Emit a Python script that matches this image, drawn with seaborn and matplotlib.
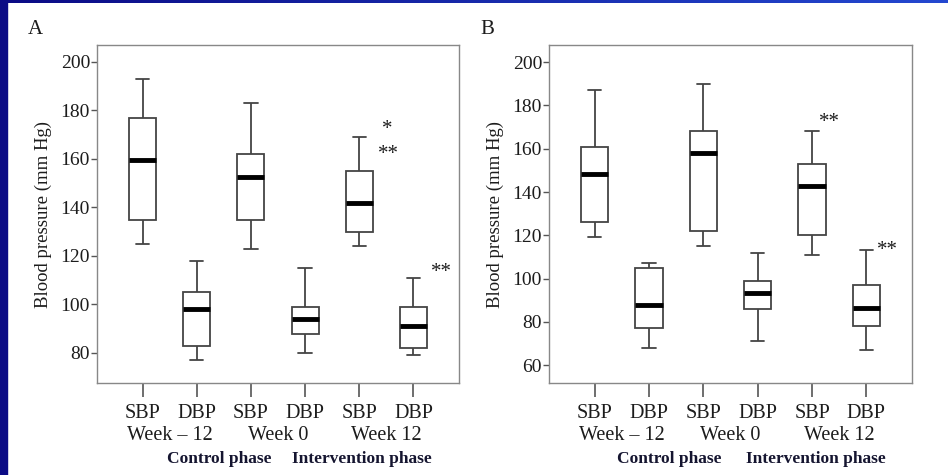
import numpy as np
import pandas as pd
import matplotlib
matplotlib.use("Agg")
import matplotlib.pyplot as plt
import matplotlib.transforms as mtransforms
from matplotlib.patches import Rectangle
import seaborn as sns

# five-number summaries (min, Q1, median, Q3, max)
groups = ["SBP W-12", "DBP W-12", "SBP W0", "DBP W0", "SBP W12", "DBP W12"]
tick_labels = ["SBP", "DBP", "SBP", "DBP", "SBP", "DBP"]
week_labels = ["Week \u2013 12", "Week 0", "Week 12"]
phase_labels = ["Control phase", "Intervention phase"]

panel_a = [
    [125, 135, 159.5, 177, 193],
    [77, 83, 98, 105, 118],
    [123, 135, 152.5, 162, 183],
    [80, 88, 94, 99, 115],
    [124, 130, 142, 155, 169],
    [79, 82, 91, 99, 111],
]
panel_b = [
    [119, 126, 148.5, 161, 187],
    [68, 77, 88, 105, 107],
    [115, 122, 158, 168, 190],
    [71, 86, 93.5, 99, 112],
    [111, 120, 143, 153, 168],
    [67, 78, 86.5, 97, 113],
]

# significance marks: (x position, y value, text)
stars_a = [(4.52, 172, "*"), (4.54, 162, "**"), (5.52, 113, "**")]
stars_b = [(4.32, 172, "**"), (5.38, 113, "**")]

sns.set_style("white")
plt.rcParams["font.family"] = ["Liberation Serif", "DejaVu Serif"]
text_col = "#1c1c1c"

fig = plt.figure(figsize=(9.48, 4.75), dpi=100)

# slide border: navy strip on the left, gradient strip at the top
fig.add_artist(Rectangle((0, 0), 7 / 948, 1, transform=fig.transFigure,
                         color="#0b0b85", zorder=5))
bar_ax = fig.add_axes([0, 1 - 3 / 475, 1, 3 / 475])
bar_ax.imshow(np.linspace(0, 1, 256)[None, :], aspect="auto",
              cmap=matplotlib.colors.LinearSegmentedColormap.from_list(
                  "bar", ["#0b0b85", "#2448d0"]))
bar_ax.axis("off")


def draw_panel(rect, summaries, ylim, yticks, stars, letter, phase_x):
    ax = fig.add_axes(rect)
    df = pd.DataFrame({
        "group": np.repeat(groups, 5),
        "bp": np.concatenate(summaries),
    })
    sns.boxplot(data=df, x="group", y="bp", order=groups, ax=ax,
                whis=(0, 100), width=0.5, color="white", linecolor="#444444",
                linewidth=1.3, medianprops={"color": "black", "linewidth": 3.5})
    ax.set_xlim(-0.84, 5.84)
    ax.set_ylim(*ylim)
    ax.set_yticks(yticks)
    ax.set_xticks(range(6))
    ax.set_xticklabels(tick_labels, fontsize=14.5, color=text_col)
    ax.tick_params(axis="y", labelsize=14, colors=text_col, length=4,
                   width=1, direction="out", left=True, color="#555555", pad=1)
    ax.tick_params(axis="x", length=10, width=1.2, direction="out",
                   bottom=True, color="#555555", pad=5)
    for s in ax.spines.values():
        s.set_color("#888888")
        s.set_linewidth(1.0)
    ax.set_xlabel("")
    ax.set_ylabel("Blood pressure (mm Hg)", fontsize=13.5, color=text_col,
                  labelpad=6)

    trans = mtransforms.blended_transform_factory(ax.transData, ax.transAxes)
    for i, lab in enumerate(week_labels):
        ax.text(2 * i + 0.5, -0.155, lab, transform=trans, ha="center",
                va="center", fontsize=14.5, color=text_col)
    for xp, lab in zip(phase_x, phase_labels):
        ax.text(xp, -0.225, lab, transform=trans, ha="center", va="center",
                fontsize=12.5, fontweight="bold", color="#151530")
    for xs, ys, t in stars:
        ax.text(xs, ys, t, ha="center", va="center", fontsize=15,
                color=text_col)
    ax.text(-0.17, 1.045, letter, transform=ax.transAxes, fontsize=15,
            ha="center", va="center", color=text_col)
    return ax


draw_panel([97 / 948, 1 - 383 / 475, 362 / 948, 338 / 475], panel_a,
           (67.6, 207), [80, 100, 120, 140, 160, 180, 200], stars_a, "A",
           [1.42, 4.05])
draw_panel([549 / 948, 1 - 383 / 475, 363 / 948, 338 / 475], panel_b,
           (51.8, 207.9), [60, 80, 100, 120, 140, 160, 180, 200], stars_b, "B",
           [1.38, 4.08])

fig.savefig("out.png", dpi=100)
